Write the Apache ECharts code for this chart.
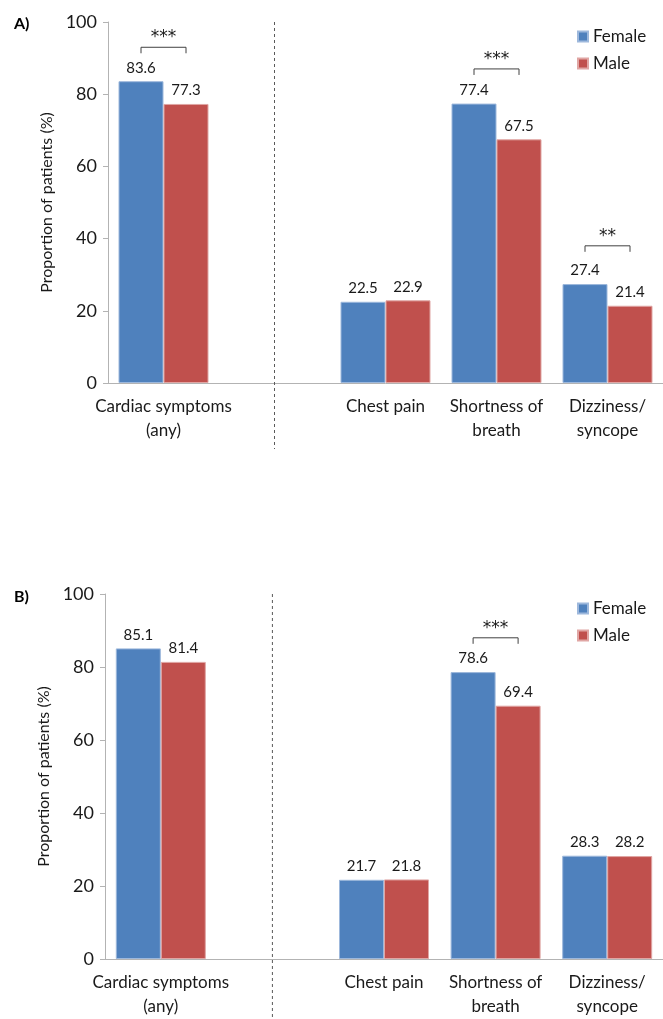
<!DOCTYPE html>
<html><head><meta charset="utf-8">
<script src="https://cdn.jsdelivr.net/npm/echarts@6/dist/echarts.min.js"></script>
<style>html,body{margin:0;padding:0;background:#fff}#c{width:663px;height:1019px}</style>
</head><body><div id="c"></div>
<script>
const categories = ['Cardiac symptoms\n(any)', '', 'Chest pain', 'Shortness of\nbreath', 'Dizziness/\nsyncope'];
const femaleA = [83.6, null, 22.5, 77.4, 27.4];
const maleA = [77.3, null, 22.9, 67.5, 21.4];
const femaleB = [85.1, null, 21.7, 78.6, 28.3];
const maleB = [81.4, null, 21.8, 69.4, 28.2];
const yTicks = [0, 20, 40, 60, 80, 100];
// significance brackets: [category index, bracket level (%), label]
const sigA = [[0, 93, '***'], [3, 87, '***'], [4, 38, '**']];
const sigB = [[3, 88, '***']];
const dividerIndex = 1;
const panelLabels = ['A)', 'B)'];
const seriesNames = ['Female', 'Male'];

const FONT = 'Lato, "Open Sans", sans-serif';
const BLUE = '#4F81BD', RED = '#C0504D', AXIS = '#B3B3B3', TXT = '#1a1a1a';
const BAR_W = 45;

const chart = echarts.init(document.getElementById('c'), null, {renderer: 'canvas'});

function bracketRenderer(sig) {
  return function (params, api) {
    const s = sig[params.dataIndex];
    const p = api.coord([s[0], s[1]]);
    const off = BAR_W / 2;
    const x1 = p[0] - off, x2 = p[0] + off, y = p[1];
    return {
      type: 'group',
      children: [
        {type: 'polyline', shape: {points: [[x1, y + 6], [x1, y], [x2, y], [x2, y + 6]]},
         style: {stroke: '#404040', lineWidth: 1, fill: null}},
        {type: 'text', x: p[0], y: y - 1,
         style: {text: s[2], fill: TXT, font: '17px "DejaVu Sans", sans-serif', align: 'center', verticalAlign: 'bottom'}}
      ]
    };
  };
}
function dividerRender(params, api) {
  const top = api.coord([api.value(0), 100]);
  const bot = api.coord([api.value(0), 0]);
  return {type: 'line', shape: {x1: top[0], y1: top[1], x2: bot[0], y2: bot[1] + 66},
          style: {stroke: '#595959', lineWidth: 1, lineDash: [3, 3]}};
}

const grids = [
  {left: 108, top: 22, width: 560, height: 361},
  {left: 105, top: 594, width: 560, height: 365}
];
const data = [[femaleA, maleA, sigA], [femaleB, maleB, sigB]];

const option = {
  animation: false,
  textStyle: {fontFamily: FONT},
  grid: grids,
  title: panelLabels.map((t, i) => ({text: t, left: 9, top: i === 0 ? 11 : 584,
    textStyle: {fontSize: 16, fontWeight: 'bold', color: '#000', fontFamily: FONT}})),
  legend: [
    {left: 572, top: 23, orient: 'vertical', itemWidth: 10, itemHeight: 10, itemGap: 10, icon: 'rect',
     data: seriesNames, textStyle: {fontSize: 17, color: TXT, fontFamily: FONT}},
    {left: 572, top: 595, orient: 'vertical', itemWidth: 10, itemHeight: 10, itemGap: 10, icon: 'rect',
     data: seriesNames, textStyle: {fontSize: 17, color: TXT, fontFamily: FONT}}
  ],
  xAxis: [0, 1].map(i => ({
    type: 'category', gridIndex: i, data: categories,
    axisLine: {lineStyle: {color: AXIS}}, axisTick: {show: false},
    axisLabel: {interval: 0, fontSize: 17, lineHeight: 24, margin: 12, color: TXT, fontFamily: FONT}
  })),
  yAxis: [0, 1].map(i => ({
    type: 'value', gridIndex: i, min: yTicks[0], max: yTicks[yTicks.length - 1], interval: 20,
    name: 'Proportion of patients (%)', nameLocation: 'middle', nameGap: 46,
    nameTextStyle: {fontSize: 16, color: TXT, fontFamily: FONT},
    axisLine: {show: true, lineStyle: {color: AXIS}},
    axisTick: {show: true, length: 5, lineStyle: {color: AXIS}},
    splitLine: {show: false},
    axisLabel: {fontSize: 18, margin: 11, color: TXT, fontFamily: FONT}
  })),
  series: []
};

data.forEach((d, i) => {
  [0, 1].forEach(k => {
    option.series.push({
      type: 'bar', name: seriesNames[k], xAxisIndex: i, yAxisIndex: i, data: d[k],
      barWidth: BAR_W, barGap: '0%',
      itemStyle: {color: k === 0 ? BLUE : RED, borderColor: k === 0 ? '#9DB8DC' : '#E0A6A4', borderWidth: 1},
      label: {show: true, position: 'top', distance: 6, fontSize: 15, color: TXT, fontFamily: FONT,
              formatter: p => p.value.toFixed(1)}
    });
  });
  option.series.push({
    type: 'custom', xAxisIndex: i, yAxisIndex: i, renderItem: bracketRenderer(d[2]),
    data: d[2].map(s => [s[0], s[1]]), silent: true, z: 5
  });
  option.series.push({
    type: 'custom', xAxisIndex: i, yAxisIndex: i, renderItem: dividerRender,
    data: [[dividerIndex]], silent: true, clip: false, z: 1
  });
});

chart.setOption(option);
</script></body></html>
